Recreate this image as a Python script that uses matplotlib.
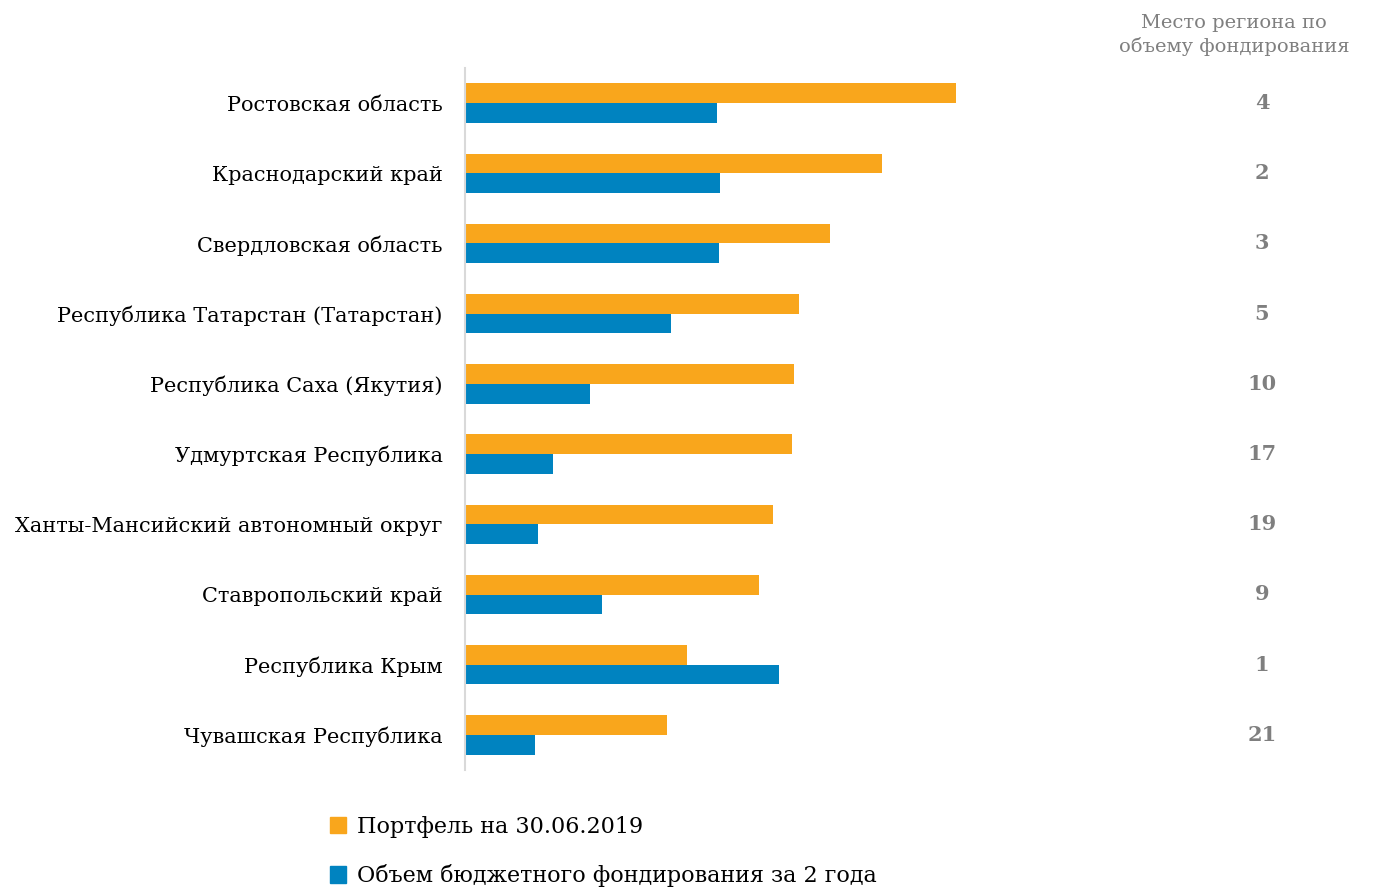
import matplotlib.pyplot as plt
import matplotlib.transforms as mtransforms
from matplotlib.patches import Patch
import numpy as np

# data
regions = [
    'Ростовская область',
    'Краснодарский край',
    'Свердловская область',
    'Республика Татарстан (Татарстан)',
    'Республика Саха (Якутия)',
    'Удмуртская Республика',
    'Ханты-Мансийский автономный округ',
    'Ставропольский край',
    'Республика Крым',
    'Чувашская Республика',
]
portfolio = [49.1, 41.7, 36.5, 33.4, 32.9, 32.7, 30.8, 29.4, 22.2, 20.2]
budget = [25.2, 25.5, 25.4, 20.6, 12.5, 8.8, 7.3, 13.7, 31.4, 7.0]
ranks = ['4', '2', '3', '5', '10', '17', '19', '9', '1', '21']

ORANGE = '#f9a61c'
BLUE = '#0083c0'
GREY = '#7f7f7f'

plt.rcParams['font.family'] = ['DejaVu Serif']

fig = plt.figure(figsize=(13.8, 8.94), dpi=100)
ax = fig.add_axes([465 / 1380, 1 - 770 / 894, 640 / 1380, 702 / 894])

y = np.arange(len(regions))
h = 0.28
ax.barh(y - h / 2, portfolio, height=h, color=ORANGE, label='Портфель на 30.06.2019')
ax.barh(y + h / 2, budget, height=h, color=BLUE, label='Объем бюджетного фондирования за 2 года')

ax.set_ylim(len(regions) - 0.5, -0.5)
ax.set_xlim(0, 64)
ax.set_yticks(y)
ax.set_yticklabels(regions, fontsize=15)
ax.tick_params(axis='y', length=0, pad=16)
ax.set_xticks([])
for side in ['top', 'right', 'bottom']:
    ax.spines[side].set_visible(False)
ax.spines['left'].set_color('#d9d9d9')
ax.spines['left'].set_linewidth(1.5)

# rank column on the right
trans = mtransforms.blended_transform_factory(fig.transFigure, ax.transData)
for yi, r in zip(y, ranks):
    ax.text(1262 / 1380, yi, r, transform=trans, ha='center', va='center',
            fontsize=15, fontweight='bold', color=GREY)
fig.text(1234 / 1380, 1 - 35 / 894, 'Место региона по\nобъему фондирования',
         ha='center', va='center', fontsize=14, color=GREY, linespacing=1.3)

handles = [Patch(color=ORANGE), Patch(color=BLUE)]
labels = ['Портфель на 30.06.2019', 'Объем бюджетного фондирования за 2 года']
fig.legend(handles, labels, loc='upper left', bbox_to_anchor=(314 / 1380, 1 - 800 / 894),
           frameon=False, fontsize=16, labelspacing=1.2, handlelength=0.75,
           handleheight=0.75, handletextpad=0.5, borderaxespad=0.3)

fig.savefig('out.png', dpi=100)
